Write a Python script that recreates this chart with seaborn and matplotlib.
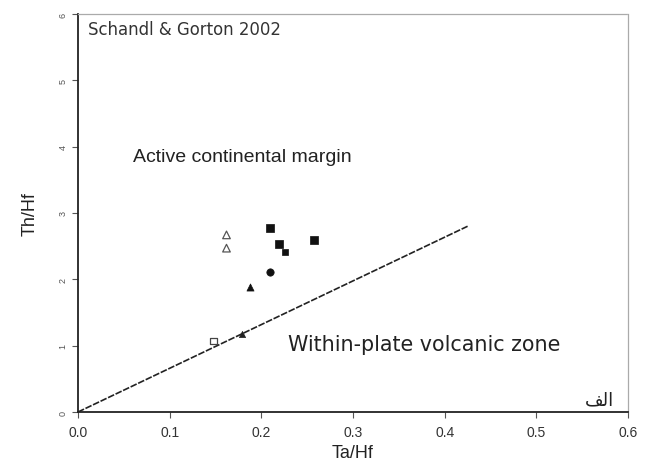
import matplotlib
matplotlib.use("Agg")
import matplotlib.pyplot as plt
import seaborn as sns
import pandas as pd

# ---- data ----
ta_hf = [0.162, 0.162, 0.209, 0.219, 0.226, 0.257, 0.209, 0.188, 0.179, 0.148]
th_hf = [2.67, 2.47, 2.77, 2.53, 2.41, 2.60, 2.11, 1.88, 1.18, 1.07]
groups = ["open_tri_up", "open_tri", "square", "square", "small", "square",
          "circle", "triangle", "triangle_s", "open_sq"]

boundary_x = [0.0, 0.425]
boundary_y = [0.0, 2.80]

x_ticks = [0.0, 0.1, 0.2, 0.3, 0.4, 0.5, 0.6]
x_ticklabels = ["0.0", "0.1", "0.2", "0.3", "0.4", "0.5", "0.6"]
y_ticks = [0, 1, 2, 3, 4, 5, 6]
y_ticklabels = ["0", "1", "2", "3", "4", "5", "6"]

df = pd.DataFrame({"Ta/Hf": ta_hf, "Th/Hf": th_hf, "g": groups})

sns.set_style("white")
plt.rcParams["font.family"] = ["Liberation Sans", "DejaVu Sans"]

fig = plt.figure(figsize=(6.52, 4.64), dpi=100)
ax = fig.add_axes([0.1196, 0.1099, 0.8436, 0.8578])

sns.lineplot(x=boundary_x, y=boundary_y, ax=ax, color="#222222", lw=1.2,
             linestyle=(0, (4, 1.0)), sort=False)

styles = {
    "open_tri_up": dict(marker="^", s=30, facecolor="none", edgecolor="#555555", lw=0.9),
    "open_tri": dict(marker="^", s=30, facecolor="none", edgecolor="#555555", lw=0.9),
    "square": dict(marker="s", s=30, facecolor="#111111", edgecolor="#111111", lw=0.5),
    "small": dict(marker="s", s=18, facecolor="#111111", edgecolor="#111111", lw=0.5),
    "circle": dict(marker="o", s=28, facecolor="#111111", edgecolor="#111111", lw=0.5),
    "triangle": dict(marker="^", s=26, facecolor="#111111", edgecolor="#111111", lw=0.5),
    "triangle_s": dict(marker="^", s=20, facecolor="#222222", edgecolor="#222222", lw=0.5),
    "open_sq": dict(marker="s", s=22, facecolor="none", edgecolor="#444444", lw=0.9),
}
for g, st in styles.items():
    sub = df[df["g"] == g]
    sns.scatterplot(data=sub, x="Ta/Hf", y="Th/Hf", ax=ax, zorder=3, **st)

ax.set_xlim(0, 0.6)
ax.set_ylim(0, 6)
ax.set_xticks(x_ticks)
ax.set_xticklabels(x_ticklabels, fontsize=10, color="#333333")
ax.set_yticks(y_ticks)
ax.set_yticklabels(y_ticklabels, fontsize=6.5, color="#555555", rotation=90, va="center")
ax.tick_params(axis="both", direction="out", length=4, width=0.8, color="#555555", left=True, bottom=True)
ax.tick_params(axis="x", pad=5)

ax.set_xlabel("Ta/Hf", fontsize=13, color="#222222", labelpad=4)
ax.set_ylabel("Th/Hf", fontsize=13, color="#222222", labelpad=14)

for side in ["left", "bottom"]:
    ax.spines[side].set_color("#222222")
    ax.spines[side].set_linewidth(1.3)
for side in ["top", "right"]:
    ax.spines[side].set_color("#aaaaaa")
    ax.spines[side].set_linewidth(0.9)
    ax.spines[side].set_linestyle((0, (3, 1)))

ax.text(0.011, 5.78, "Schandl & Gorton 2002", fontsize=11.9, color="#333333", va="center",
        family=["DejaVu Sans"])
ax.text(0.06, 3.85, "Active continental margin", fontsize=14, color="#222222", va="center")
ax.text(0.229, 1.02, "Within-plate volcanic zone", fontsize=14.9, color="#222222", va="center",
        family=["DejaVu Sans"])
ax.text(0.585, 0.19, "\uFED2\uFEDF\uFE8D", fontsize=13, color="#222222", ha="right",
        va="center", family=["DejaVu Sans"])

fig.savefig("out.png", dpi=100)
